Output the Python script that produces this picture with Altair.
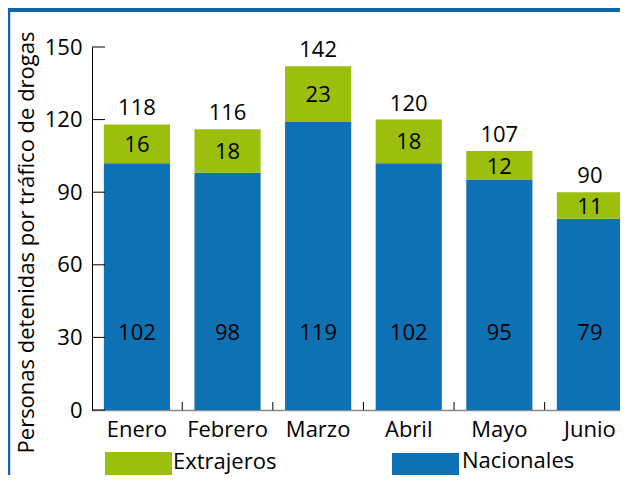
import altair as alt
import pandas as pd

months = ["Enero", "Febrero", "Marzo", "Abril", "Mayo", "Junio"]
nacionales = [102, 98, 119, 102, 95, 79]
extranjeros = [16, 18, 23, 18, 12, 11]
series = ["Extrajeros", "Nacionales"]
colors = ["#9bbf0c", "#0e71b4"]
y_ticks = [0, 30, 60, 90, 120, 150]
y_title = "Personas detenidas por tráfico de drogas"

FONT = "Open Sans"
FS = 22
TXT = "#000000"
FRAME = "#1166ab"

long = pd.DataFrame({
    "mes": months * 2,
    "serie": ["Nacionales"] * 6 + ["Extrajeros"] * 6,
    "valor": nacionales + extranjeros,
    "orden": [0] * 6 + [1] * 6,
})
wide = pd.DataFrame({"mes": months, "nac": nacionales, "ext": extranjeros})

xscale = alt.Scale(domain=months, range=[0, 531], paddingInner=0.27, paddingOuter=0.0655, align=1)
yscale = alt.Scale(domain=[0, 150], nice=False, zero=True)

x_axis = alt.Axis(title=None, labelAngle=0, labelFontSize=FS, labelFont=FONT, labelColor=TXT,
                  ticks=False, domainColor="#8a8a8a", domainWidth=1.5, labelPadding=9, grid=False)
y_axis = alt.Axis(values=y_ticks, title=y_title, labelFontSize=FS, labelFont=FONT, labelColor=TXT,
                  ticks=False, domainColor="#000000", domainWidth=1, labelPadding=10, grid=False,
                  titleFont=FONT, titleFontSize=FS, titleFontWeight="normal", titleColor=TXT,
                  titleAngle=-90, titleX=-59, titleY=195, titleAlign="center", titleBaseline="alphabetic")

def X():
    return alt.X("mes:N", scale=xscale, sort=months, axis=x_axis)

bars = alt.Chart(long).mark_bar().encode(
    x=X(),
    y=alt.Y("sum(valor):Q", scale=yscale, axis=y_axis, stack="zero"),
    color=alt.Color("serie:N", scale=alt.Scale(domain=series, range=colors), legend=None),
    order=alt.Order("orden:Q"),
)

base_t = alt.Chart(wide).transform_calculate(total="datum.nac + datum.ext", mid="datum.nac + datum.ext / 2")

nac_lbl = base_t.mark_text(font=FONT, fontSize=FS, color=TXT, baseline="middle").encode(
    x=X(), y=alt.datum(32, scale=yscale), text="nac:Q")
ext_lbl = base_t.mark_text(font=FONT, fontSize=FS, color=TXT, baseline="middle", dy=1).encode(
    x=X(), y=alt.Y("mid:Q", scale=yscale, axis=y_axis), text="ext:Q")
tot_lbl = base_t.mark_text(font=FONT, fontSize=FS, color=TXT, baseline="bottom", dy=-4).encode(
    x=X(), y=alt.Y("total:Q", scale=yscale, axis=y_axis), text="total:Q")

ytick_rules = alt.Chart(pd.DataFrame({"v": y_ticks})).mark_rule(color="#000000", strokeWidth=1).encode(
    y=alt.Y("v:Q", scale=yscale, axis=y_axis), x=alt.value(0), x2=alt.value(13))
xtick_rules = alt.Chart(pd.DataFrame({"mes": months[1:]})).mark_rule(color="#000000", strokeWidth=1, xOffset=-45.3).encode(
    x=X(), y=alt.value(355), y2=alt.value(363))

one = pd.DataFrame({"a": [0]})
frame_v = alt.Chart(one).mark_rule(color=FRAME, strokeWidth=2.5).encode(
    x=alt.value(-83), y=alt.value(-39), y2=alt.value(428))
frame_h = alt.Chart(one).mark_rule(color=FRAME, strokeWidth=4).encode(
    x=alt.value(-84), x2=alt.value(530), y=alt.value(-37))

leg_g = alt.Chart(one).mark_rect(color=colors[0]).encode(
    x=alt.value(13), x2=alt.value(80), y=alt.value(405), y2=alt.value(428))
leg_b = alt.Chart(one).mark_rect(color=colors[1]).encode(
    x=alt.value(300), x2=alt.value(367), y=alt.value(406), y2=alt.value(428))
leg_gt = alt.Chart(one).mark_text(font=FONT, fontSize=FS, color=TXT, align="left", baseline="alphabetic").encode(
    x=alt.value(81), y=alt.value(422), text=alt.value(series[0]))
leg_bt = alt.Chart(one).mark_text(font=FONT, fontSize=FS, color=TXT, align="left", baseline="alphabetic").encode(
    x=alt.value(370), y=alt.value(421), text=alt.value(series[1]))

chart = alt.layer(
    bars, nac_lbl, ext_lbl, tot_lbl, ytick_rules, xtick_rules,
    frame_v, frame_h, leg_g, leg_b, leg_gt, leg_bt,
).properties(
    width=528, height=363,
    autosize=alt.AutoSizeParams(type="none"),
    padding={"left": 84, "top": 39, "right": 0, "bottom": 65},
).configure_view(stroke=None)

chart.save("out.html", embed_options={"renderer": "svg", "actions": False})
